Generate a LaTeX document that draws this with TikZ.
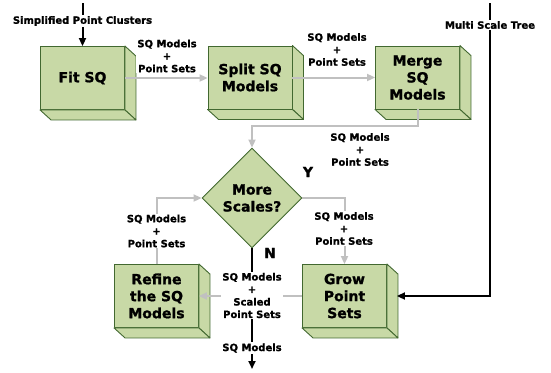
\documentclass[tikz,border=0pt]{standalone}
\usepackage{fontspec}
\setmainfont{DejaVu Sans}[BoldFeatures={FakeBold=1.2}]
\usetikzlibrary{arrows.meta,shapes.geometric,calc}
\definecolor{boxfill}{RGB}{200,217,166}
\definecolor{boxedge}{RGB}{66,104,48}
\definecolor{flowgray}{RGB}{192,192,192}
\tikzset{
  stepbox/.style={draw=boxedge, fill=boxfill, line width=0.9pt, minimum width=84pt, minimum height=63pt,
    inner sep=0pt, align=center, font=\fontsize{14}{17}\selectfont\bfseries},
  cubeface/.style={draw=boxedge, fill=boxfill, line width=0.9pt, line join=round},
  decision/.style={diamond, draw=boxedge, fill=boxfill, line width=0.9pt, minimum width=100pt, minimum height=100pt,
    inner sep=0pt, align=center, font=\fontsize{14}{17}\selectfont\bfseries},
  flow/.style={draw=flowgray, line width=2pt, -{Triangle[length=8pt,width=7pt]}},
  blackflow/.style={draw=black, line width=2pt, -{Triangle[length=8pt,width=7pt]}},
  lbl/.style={fill=white, inner sep=1pt, align=center, font=\fontsize{10}{12.5}\selectfont\bfseries},
  yn/.style={inner sep=0pt, font=\fontsize{14}{17}\selectfont\bfseries},
}
\begin{document}
\begin{tikzpicture}[x=1pt,y=-1pt]
\useasboundingbox (0,0) rectangle (551,372);
% boxes
\node[stepbox] (fit) at (82.5,78) {Fit SQ};
\node[stepbox] (split) at (250,77.5) {Split SQ\\Models};
\node[stepbox] (merge) at (417.5,77.5) {Merge\\SQ\\Models};
\node[stepbox] (refine) at (156.5,296) {Refine\\the SQ\\Models};
\node[stepbox] (grow) at (344.5,296) {Grow\\Point\\Sets};
\node[decision] (dia) at (252,198) {More\\Scales?};
\foreach \n in {fit,split,merge,refine,grow}{
  \draw[cubeface] (\n.north east) -- ++(11,10) -- ([shift={(11,10)}]\n.south east) -- (\n.south east) -- cycle;
  \draw[cubeface] (\n.south west) -- ++(11,10) -- ([shift={(11,10)}]\n.south east) -- (\n.south east) -- cycle;
}
% coordinates
\coordinate (spc) at (82.5,3);
\coordinate (mst) at (490,3);
\coordinate (mt) at (252,126);
\coordinate (out) at (252,369);
% connectors
\draw[blackflow] (spc) -- (fit.north);
\draw[flow] (fit.east) -- (fit.east -| split.west);
\draw[flow] (split.east) -- (merge.west);
\draw[flow] (merge.south) |- (mt) -- (dia.north);
\draw[flow] (dia.east) -| (grow.north);
\draw[flow] (grow.west) -- (refine.east);
\draw[flow] (refine.north) |- (dia.west);
\draw[blackflow] (dia.south) -- (out);
\draw[blackflow] (mst) |- ([xshift=10pt]grow.east);
% labels
\node[lbl] (l0) at (82.5,21) {Simplified Point Clusters};
\node[lbl] (l5) at (490,25) {Multi Scale Tree};
\node[lbl] (l1) at (167,56) {SQ Models\\+\\Point Sets};
\node[lbl] (l2) at (337,49.5) {SQ Models\\+\\Point Sets};
\node[lbl] (l3) at (360,149.5) {SQ Models\\+\\Point Sets};
\node[lbl] (l4) at (344,228.5) {SQ Models\\+\\Point Sets};
\node[lbl] (l6) at (156.5,231) {SQ Models\\+\\Point Sets};
\node[lbl] (l7) at (252,295.5) {SQ Models\\+\\Scaled\\Point Sets};
\node[lbl] (l8) at (252,348) {SQ Models};
\node[yn] (yes) at (308,172) {Y};
\node[yn] (no) at (270,253) {N};
\end{tikzpicture}
\end{document}
